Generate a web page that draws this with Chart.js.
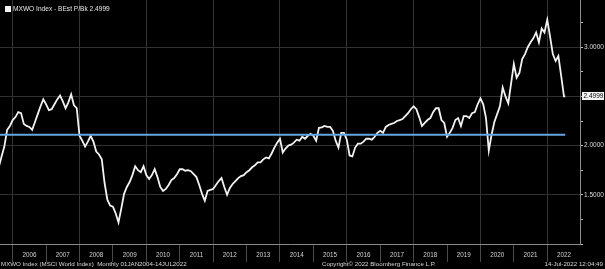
<!DOCTYPE html>
<html>
<head>
<meta charset="utf-8">
<script src="https://cdn.jsdelivr.net/npm/chart.js@4/dist/chart.umd.min.js"></script>
<style>
  html, body { margin: 0; padding: 0; background: #000; }
  #wrap { position: relative; width: 605px; height: 269px; background: #000; overflow: hidden; }
  #wrap canvas { position: absolute; left: 0; top: 0; }
  .txt { position: absolute; font-family: "Liberation Sans", Arial, sans-serif; color: #d8d8d8; white-space: nowrap; line-height: 1; }
  #title { left: 13px; top: 6px; font-size: 6.6px; color: #e8e8e8; }
  #sq { position: absolute; left: 5px; top: 6px; width: 6px; height: 6px; background: #f4f4f4; }
  #foot1 { left: 1px; top: 261px; font-size: 6.2px; }
  #foot2 { left: 322px; top: 261px; font-size: 6.2px; }
  #foot3 { right: 2px; top: 261px; font-size: 6.2px; }
</style>
</head>
<body>
<div id="wrap">
  <canvas id="c" width="605" height="269"></canvas>
  <div id="sq"></div>
  <div class="txt" id="title">MXWO Index - BEst P/Bk 2.4999</div>
  <div class="txt" id="foot1">MXWO Index (MSCI World Index)&nbsp;&nbsp;Monthly 01JAN2004-14JUL2022</div>
  <div class="txt" id="foot2">Copyright© 2022 Bloomberg Finance L.P.</div>
  <div class="txt" id="foot3">14-Jul-2022 12:04:49</div>
</div>
<script>
// ---- data ----
const firstYear = 2005, firstMonth = 7;          // first monthly point shown: Jul 2005
const lastDate = '2022-07-14';                    // final (partial-month) point
const pbValues = [
  // 2005 Jul-Dec
  1.78, 1.89, 1.99, 2.16, 2.20, 2.26,
  // 2006
  2.29, 2.34, 2.33, 2.22, 2.20, 2.19, 2.16, 2.24, 2.32, 2.40, 2.47, 2.42,
  // 2007
  2.36, 2.37, 2.42, 2.47, 2.51, 2.45, 2.38, 2.44, 2.52, 2.41, 2.38, 2.10,
  // 2008
  2.05, 1.99, 2.04, 2.10, 2.04, 1.94, 1.91, 1.86, 1.62, 1.45, 1.39, 1.38,
  // 2009
  1.31, 1.22, 1.36, 1.51, 1.58, 1.63, 1.70, 1.79, 1.75, 1.73, 1.79, 1.70,
  // 2010
  1.66, 1.70, 1.76, 1.68, 1.58, 1.54, 1.56, 1.60, 1.65, 1.67, 1.71, 1.76,
  // 2011
  1.76, 1.745, 1.75, 1.74, 1.71, 1.68, 1.60, 1.51, 1.44, 1.54, 1.55, 1.56,
  // 2012
  1.60, 1.64, 1.67, 1.58, 1.50, 1.57, 1.61, 1.64, 1.67, 1.69, 1.70, 1.73,
  // 2013
  1.75, 1.78, 1.80, 1.83, 1.83, 1.86, 1.88, 1.87, 1.92, 1.98, 2.03, 2.07,
  // 2014
  1.93, 1.97, 2.00, 2.01, 2.03, 2.06, 2.05, 2.09, 2.07, 2.10, 2.12, 2.10,
  // 2015
  2.05, 2.18, 2.185, 2.20, 2.19, 2.19, 2.15, 2.05, 1.98, 2.13, 2.13, 2.06,
  // 2016
  1.90, 1.89, 1.98, 2.02, 2.02, 2.04, 2.07, 2.07, 2.06, 2.09, 2.13, 2.15,
  // 2017
  2.13, 2.19, 2.21, 2.22, 2.23, 2.25, 2.26, 2.27, 2.30, 2.33, 2.37, 2.40,
  // 2018
  2.37, 2.29, 2.20, 2.23, 2.26, 2.28, 2.34, 2.38, 2.38, 2.26, 2.23, 2.09,
  // 2019
  2.13, 2.18, 2.26, 2.28, 2.20, 2.30, 2.30, 2.28, 2.33, 2.34, 2.42, 2.48,
  // 2020
  2.42, 2.28, 1.95, 2.11, 2.24, 2.32, 2.40, 2.59, 2.50, 2.43, 2.63, 2.83,
  // 2021
  2.69, 2.74, 2.88, 2.93, 3.00, 3.05, 3.09, 3.15, 3.05, 3.19, 3.15, 3.28,
  // 2022 Jan-Jun, then 14 Jul
  3.11, 2.93, 2.86, 2.91, 2.71, 2.50, 2.4999
];
const averageValue = 2.11;                          // blue horizontal line
const lastValueLabel = '2.4999';
const yearLabels = ['2006','2007','2008','2009','2010','2011','2012','2013','2014',
                    '2015','2016','2017','2018','2019','2020','2021','2022'];
const yTickValues = [1.0, 1.25, 1.5, 1.75, 2.0, 2.25, 2.5, 2.75, 3.0, 3.25];
const yLabelled = [1.5, 2.0, 3.0];
const yGridValues = [1.5, 2.0, 2.5, 3.0];

// ---- dates (month ends) ----
const dates = [];
(function () {
  let y = firstYear, m = firstMonth;
  while (dates.length < pbValues.length - 1) {
    dates.push(y + '-' + String(m).padStart(2, '0'));
    m++; if (m > 12) { m = 1; y++; }
  }
  dates.push(lastDate);
})();
function toDecimalYear(d) {
  const p = d.split('-').map(Number);
  if (p.length === 2) return p[0] + p[1] / 12;           // month-end
  return p[0] + (p[1] - 1) / 12 + p[2] / 365;
}
const pbPoints = dates.map((d, i) => ({ x: toDecimalYear(d), y: pbValues[i] }));
const avgPoints = [
  { x: toDecimalYear(dates[0]), y: averageValue },
  { x: toDecimalYear(dates[dates.length - 1]), y: averageValue }
];

const xTickValues = [];
yearLabels.forEach(y => { xTickValues.push(+y); xTickValues.push(+y + 0.5); });

const lastBox = {
  id: 'lastBox',
  afterDraw(chart) {
    const ys = chart.scales.y;
    const py = Math.round(ys.getPixelForValue(pbValues[pbValues.length - 1]));
    const ctx = chart.ctx;
    ctx.save();
    ctx.fillStyle = '#f4f4f4';
    ctx.fillRect(582, py - 4, 22, 8);
    ctx.fillStyle = '#000';
    ctx.font = '6.5px "Liberation Sans", Arial, sans-serif';
    ctx.textBaseline = 'middle';
    ctx.textAlign = 'left';
    ctx.fillText(lastValueLabel, 583.5, py + 0.5);
    ctx.restore();
  }
};

new Chart(document.getElementById('c'), {
  type: 'line',
  data: {
    datasets: [
      { data: pbPoints, borderColor: '#f2f2f2', borderWidth: 1.8, pointRadius: 0, tension: 0, order: 2 },
      { data: avgPoints, borderColor: '#6aa4df', borderWidth: 2, pointRadius: 0, tension: 0, order: 1 }
    ]
  },
  options: {
    responsive: false,
    animation: false,
    events: [],
    layout: { padding: 0 },
    plugins: { legend: { display: false }, tooltip: { enabled: false }, title: { display: false } },
    scales: {
      x: {
        type: 'linear',
        position: 'bottom',
        min: 2005.62,
        max: 2022.98,
        afterBuildTicks: s => { s.ticks = xTickValues.map(v => ({ value: v })); },
        afterFit: s => { s.height = 25; s.paddingLeft = 0; s.paddingRight = 0; },
        border: { display: true, color: '#8a8a8a', width: 1 },
        grid: {
          drawOnChartArea: true,
          drawTicks: true,
          tickLength: 18,
          lineWidth: 1,
          color: c => (c.tick && Number.isInteger(c.tick.value) && c.tick.value % 2 === 0) ? '#343434' : 'rgba(0,0,0,0)',
          tickColor: c => (c.tick && Number.isInteger(c.tick.value)) ? '#4a4a4a' : 'rgba(0,0,0,0)'
        },
        ticks: {
          autoSkip: false,
          maxRotation: 0,
          padding: -11,
          color: '#d0d0d0',
          font: { family: '"Liberation Sans", Arial, sans-serif', size: 6.3 },
          callback: v => Number.isInteger(v) ? '' : String(Math.floor(v))
        }
      },
      y: {
        type: 'linear',
        position: 'right',
        min: 1.0,
        max: 3.48,
        afterBuildTicks: s => { s.ticks = yTickValues.map(v => ({ value: v })); },
        afterFit: s => { s.width = 25; s.paddingTop = 0; s.paddingBottom = 0; },
        border: { display: true, color: '#8a8a8a', width: 1 },
        grid: {
          drawTicks: true,
          tickLength: 3,
          color: c => (c.tick && yGridValues.includes(c.tick.value)) ? '#303030' : 'rgba(0,0,0,0)',
          tickColor: '#bdbdbd'
        },
        ticks: {
          padding: 1,
          color: '#dcdcdc',
          font: { family: '"Liberation Sans", Arial, sans-serif', size: 6.5 },
          callback: v => yLabelled.includes(v) ? v.toFixed(4) : ''
        }
      }
    }
  },
  plugins: [lastBox]
});
</script>
</body>
</html>
